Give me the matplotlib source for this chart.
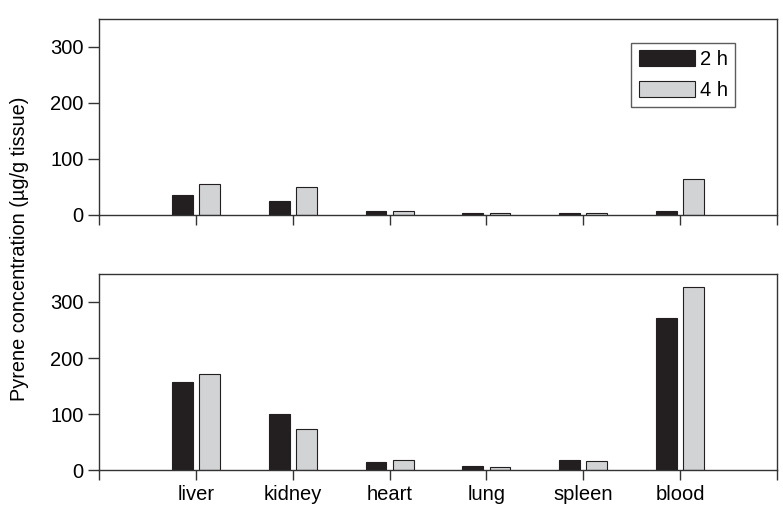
import numpy as np
import matplotlib
matplotlib.use("Agg")
import matplotlib.pyplot as plt

plt.rcParams['font.family'] = ['Liberation Sans', 'DejaVu Sans']

organs = ['liver', 'kidney', 'heart', 'lung', 'spleen', 'blood']
top_2h = [36, 25, 8, 3, 3, 7]
top_4h = [55, 50, 7, 3, 3, 65]
bot_2h = [157, 100, 14, 8, 17, 271]
bot_4h = [172, 74, 17, 6, 16, 327]

fig = plt.figure(figsize=(7.83, 5.18), dpi=100)
ax1 = fig.add_axes([99/783, 1-215/518, 678/783, 196/518])
ax2 = fig.add_axes([99/783, 1-470/518, 678/783, 196/518])

x = np.arange(len(organs))
w = 0.215
spine_c = '#333333'
fs = 14.5

for ax, d2, d4 in [(ax1, top_2h, top_4h), (ax2, bot_2h, bot_4h)]:
    ax.bar(x - 0.14, d2, w, color='#231f20', edgecolor='#231f20', linewidth=0.8, label='2 h')
    ax.bar(x + 0.14, d4, w, color='#d1d3d4', edgecolor='#231f20', linewidth=0.8, label='4 h')
    ax.set_xlim(-1, 6)
    ax.set_ylim(0, 350)
    ax.set_yticks([0, 100, 200, 300])
    ax.set_xticks(np.arange(-1, 7))
    for s in ax.spines.values():
        s.set_color(spine_c)
        s.set_linewidth(1.0)
    ax.tick_params(axis='y', length=8, width=1, color=spine_c, labelsize=fs, pad=3)
    ax.tick_params(axis='x', length=7, width=1, color=spine_c, labelsize=fs, pad=4)

ax1.set_xticklabels([])
ax2.set_xticklabels([''] + organs + [''])

leg = ax1.legend(loc='upper right', bbox_to_anchor=(735/783, 1-43/518), bbox_transform=fig.transFigure,
                 fontsize=fs, frameon=True, fancybox=False, edgecolor=spine_c,
                 handlelength=2.8, handleheight=0.8, handletextpad=0.25, labelspacing=0.6,
                 borderpad=0.35, borderaxespad=0)
leg.get_frame().set_linewidth(1.0)

fig.text(20/783, 1 - 249/518, 'Pyrene concentration (µg/g tissue)', rotation=90,
         va='center', ha='center', fontsize=14.3)

fig.savefig('out.png', dpi=100)
